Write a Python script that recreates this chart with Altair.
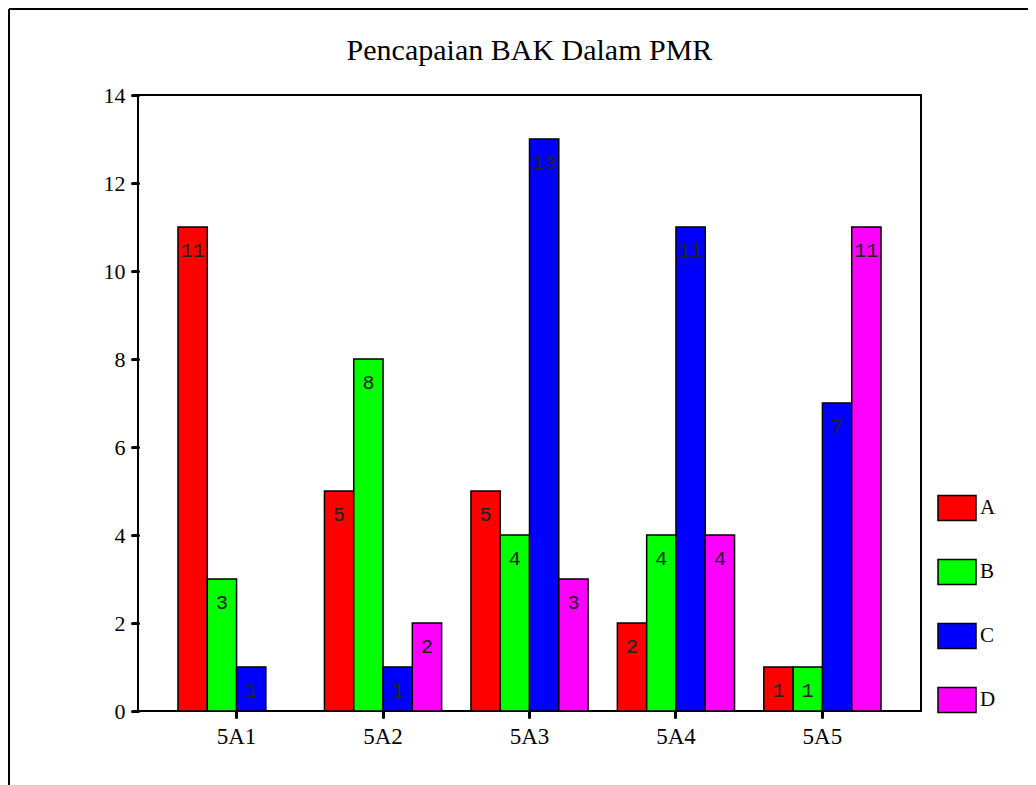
import altair as alt
import pandas as pd

classes = ["5A1", "5A2", "5A3", "5A4", "5A5"]
grades = ["A", "B", "C", "D"]
A = [11, 5, 5, 2, 1]
B = [3, 8, 4, 4, 1]
C = [1, 1, 13, 11, 7]
D = [0, 2, 3, 4, 11]
colors = ["#FF0000", "#00FF00", "#0000FF", "#FF00FF"]
y_ticks = [0, 2, 4, 6, 8, 10, 12, 14]

rows = []
for g, vals in zip(grades, [A, B, C, D]):
    for c, v in zip(classes, vals):
        rows.append({"kelas": c, "gred": g, "bil": v})
df = pd.DataFrame(rows)

base = alt.Chart(df).transform_filter("datum.bil > 0")

x = alt.X("kelas:N", sort=classes, title=None,
          scale=alt.Scale(paddingInner=0.2, paddingOuter=0.273),
          axis=alt.Axis(labelAngle=0, domain=False, grid=False, tickSize=6, tickWidth=3,
                        tickColor="black", tickCap="round", labelFont="Liberation Serif",
                        labelFontSize=23, labelColor="black", labelPadding=8))
y = alt.Y("bil:Q", title=None, scale=alt.Scale(domain=[0, 14], nice=False),
          axis=alt.Axis(values=y_ticks, domain=False, grid=False, tickSize=6, tickWidth=3,
                        tickColor="black", tickCap="round", labelFont="Liberation Serif",
                        labelFontSize=22, labelColor="black", labelPadding=7))
xoff = alt.XOffset("gred:N", sort=grades, scale=alt.Scale(paddingInner=0, paddingOuter=0))
color = alt.Color("gred:N", scale=alt.Scale(domain=grades, range=colors),
                  legend=alt.Legend(title=None, orient="none", legendX=799, legendY=393,
                                    symbolType="M-1,-0.66H1V0.66H-1Z", symbolSize=1444,
                                    symbolStrokeColor="black", symbolStrokeWidth=1.5,
                                    symbolOpacity=1, labelFont="Liberation Serif",
                                    labelFontSize=21, labelColor="black", rowPadding=28,
                                    labelOffset=3, padding=0))

bars = base.mark_bar(stroke="black", strokeWidth=1.5, opacity=1).encode(
    x=x, y=y, xOffset=xoff, color=color)
labels = base.mark_text(font="Liberation Mono", fontSize=20, baseline="middle", dy=24,
                        color="#222222").encode(x=x, xOffset=xoff, y="bil:Q", text="bil:Q")

one = alt.Chart(pd.DataFrame({"k": [0]}))
top_line = one.mark_rule(color="black", strokeWidth=2).encode(
    x=alt.value(-129), x2=alt.value(900), y=alt.value(-86))
left_line = one.mark_rule(color="black", strokeWidth=2).encode(
    x=alt.value(-129), y=alt.value(-86), y2=alt.value(690))

chart = alt.layer(bars, labels, top_line, left_line).properties(
    width=783, height=616,
    padding={"left": 130, "top": 87, "right": 107, "bottom": 74},
    autosize=alt.AutoSizeParams(type="none"),
    title=alt.Title("Pencapaian BAK Dalam PMR", font="Liberation Serif", fontSize=30,
                    fontWeight="normal", color="black", offset=0, baseline="alphabetic",
                    dy=82),
    background="white",
).configure_view(stroke="black", strokeWidth=2)

chart.save("out.html", embed_options={"renderer": "svg", "actions": False})
